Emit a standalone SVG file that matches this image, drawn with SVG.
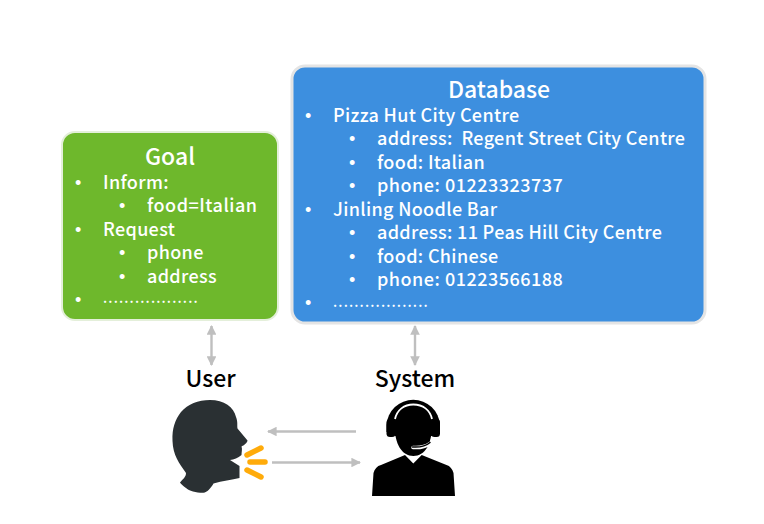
<svg xmlns="http://www.w3.org/2000/svg" width="764" height="524" viewBox="0 0 764 524">
<style>
text{font-family:"Noto Sans CJK SC","Noto Sans",sans-serif;font-weight:500;white-space:pre}
.l{fill:#fff;font-size:18px;letter-spacing:.33px}
.w{letter-spacing:.5px}
.b{fill:#fff;font-family:"Liberation Sans",sans-serif;font-size:18px}
.d{fill:#fff;font-size:14px;letter-spacing:1.15px}
.t{fill:#fff;font-size:23px;text-anchor:middle}
.n{fill:#000;font-size:23px;text-anchor:middle}
.c{fill:none;stroke:#bfbfbf;stroke-width:2.4}
.s{fill:none;stroke:#ffab0a;stroke-width:5.5;stroke-linecap:round}
</style>
<defs>
<marker id="a" viewBox="0 0 10 10" refX="9" refY="5" markerWidth="4" markerHeight="4" orient="auto-start-reverse"><path d="M0 0L10 5L0 10z" fill="#bfbfbf"/></marker>
</defs>
<rect width="764" height="524" fill="#fff"/>
<g id="goal">
<rect x="62" y="132" width="216" height="188" rx="13" fill="#6eb82c" stroke="#e4efda" stroke-width="2"/>
<text class="t" x="170" y="165">Goal</text>
<text class="b" x="75" y="189">•</text><text class="l" x="103" y="189">Inform:</text>
<text class="b" x="119" y="212">•</text><text class="l w" x="147" y="212">food=Italian</text>
<text class="b" x="75" y="236">•</text><text class="l" x="103" y="236">Request</text>
<text class="b" x="119" y="259">•</text><text class="l" x="147" y="259">phone</text>
<text class="b" x="119" y="283">•</text><text class="l" x="147" y="283">address</text>
<text class="b" x="75" y="306">•</text><text class="d" x="103" y="303">..................</text>
</g>
<g id="database">
<rect x="292" y="66" width="413" height="257" rx="13" fill="#3d8fdf" stroke="#e4e4e4" stroke-width="3"/>
<text class="t" x="499" y="98">Database</text>
<text class="b" x="305" y="122">•</text><text class="l" x="333" y="122">Pizza Hut City Centre</text>
<text class="b" x="349" y="145">•</text><text class="l" x="377" y="145">address:  Regent Street City Centre</text>
<text class="b" x="349" y="169">•</text><text class="l" x="377" y="169">food: Italian</text>
<text class="b" x="349" y="192">•</text><text class="l w" x="377" y="192">phone: 01223323737</text>
<text class="b" x="305" y="216">•</text><text class="l" x="333" y="216">Jinling Noodle Bar</text>
<text class="b" x="349" y="239">•</text><text class="l" x="377" y="239">address: 11 Peas Hill City Centre</text>
<text class="b" x="349" y="263">•</text><text class="l" x="377" y="263">food: Chinese</text>
<text class="b" x="349" y="286">•</text><text class="l w" x="377" y="286">phone: 01223566188</text>
<text class="b" x="305" y="309">•</text><text class="d" x="333" y="307">..................</text>
</g>
<g id="user">
<text class="n" x="210.500" y="387">User</text>
<path d="M210 400C224 400 234 407 236 417C238 422 237 425 237.500 428.500L247.500 440.500C247.500 442 245 445 241.500 446.500C242.500 449 241.500 452 241.500 455C238 458 234 459.500 230 460L239.500 466L239.500 478C232 480 222 481 213.500 483.500C211 488 207 492.500 203.500 492.800C197 493 189 491 186 488C183 486 181 484 180 482.500C183 479 186 477 186 473C179 463 173 455 172.500 441C172 428 175 420 181 412C188 404 198 400 210 400Z" fill="#2a3033"/>
<path class="s" d="M247 455L261 448M250 462H265M247 470L261 477"/>
</g>
<g id="system">
<text class="n" x="415" y="387">System</text>
<path d="M386.500 425A26.800 26.800 0 0 1 440 425L440 432L386.500 432Z" fill="#000"/>
<rect x="386.500" y="419" width="9" height="18" rx="3.500" fill="#000"/>
<rect x="431" y="419" width="9" height="18" rx="3.500" fill="#000"/>
<path d="M395 420C396 410 404 404 413.300 404C423 404 431 410 432 420L432 436L395 436Z" fill="#000"/>
<path d="M395 419C397 410 404 404.500 413.300 404.500C423 404.500 430 410 432 419" fill="none" stroke="#fff" stroke-width="1.800"/>
<path d="M394.500 425C394.500 444 402 456 413.300 456C425 456 432 444 432 425Z" fill="#000"/>
<path d="M372 496L373.500 473C374.500 469 377 466 381 465L405 455L413.300 463.500L421.700 455L446.500 465C450 466 452.500 469 453.500 473L455 496Z" fill="#000"/>
<path d="M430 443.500C426 446.500 420 448 413 447.500" fill="none" stroke="#fff" stroke-width="3.500" stroke-linecap="round"/>
<path d="M430 442.500C426 446 419 447.500 412.500 447" fill="none" stroke="#000" stroke-width="1.500" stroke-linecap="round"/>
</g>
<g id="connectors">
<path class="c" d="M211.500 326V365" marker-start="url(#a)" marker-end="url(#a)"/>
<path class="c" d="M415 326V365" marker-start="url(#a)" marker-end="url(#a)"/>
<path class="c" d="M356 431.500H268" marker-end="url(#a)"/>
<path class="c" d="M272 462.500H360" marker-end="url(#a)"/>
</g>
</svg>
